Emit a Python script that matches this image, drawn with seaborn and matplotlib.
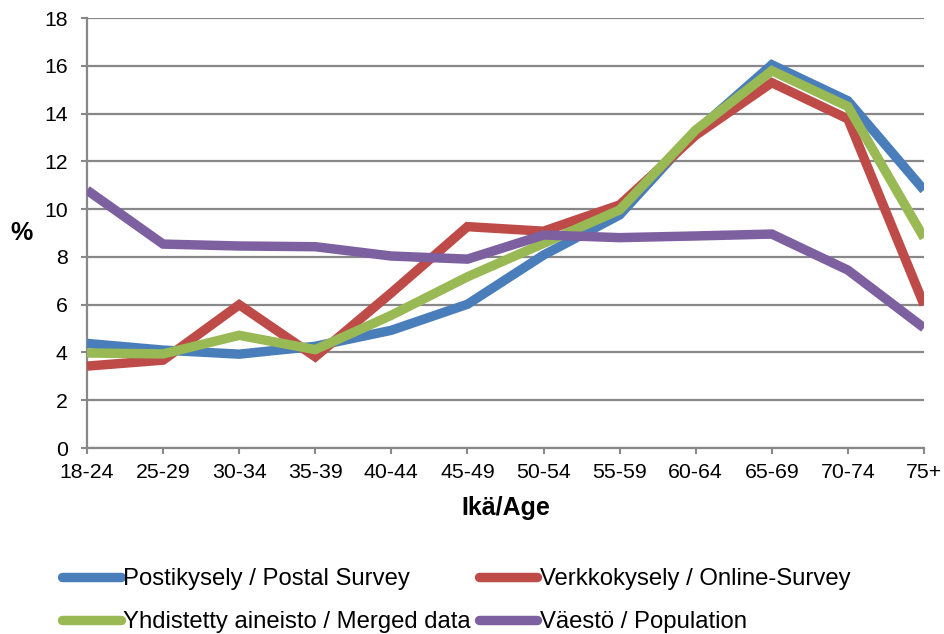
import matplotlib
matplotlib.use("Agg")
import matplotlib.pyplot as plt
import seaborn as sns
import pandas as pd
from matplotlib.lines import Line2D

categories = ["18-24", "25-29", "30-34", "35-39", "40-44", "45-49",
              "50-54", "55-59", "60-64", "65-69", "70-74", "75+"]
postal = [4.38, 4.1, 3.93, 4.26, 4.93, 6.02, 8.08, 9.76, 13.25, 16.05, 14.54, 10.8]
online = [3.43, 3.68, 6.0, 3.82, 6.5, 9.27, 9.08, 10.18, 13.1, 15.3, 13.78, 6.0]
merged = [3.98, 3.94, 4.72, 4.12, 5.56, 7.17, 8.57, 9.97, 13.32, 15.8, 14.3, 8.8]
population = [10.8, 8.54, 8.46, 8.43, 8.04, 7.91, 8.92, 8.81, 8.88, 8.96, 7.45, 5.03]

series_names = ["Postikysely / Postal Survey", "Verkkokysely / Online-Survey",
                "Yhdistetty aineisto / Merged data", "Väestö / Population"]
colors = ["#4A7EBB", "#BE4B48", "#98B954", "#7D60A0"]
yticks = [0, 2, 4, 6, 8, 10, 12, 14, 16, 18]

rows = []
for name, vals in zip(series_names, [postal, online, merged, population]):
    for c, v in zip(categories, vals):
        rows.append({"age": c, "value": v, "series": name})
df = pd.DataFrame(rows)

sns.set_theme(style="white")
plt.rcParams["font.family"] = ["Liberation Sans", "DejaVu Sans"]
plt.rcParams["text.color"] = "black"

fig = plt.figure(figsize=(9.44, 6.34), dpi=100)
ax = fig.add_axes([87 / 944, 1 - 448 / 634, (924 - 87) / 944, (448 - 18.2) / 634])

sns.lineplot(data=df, x="age", y="value", hue="series", hue_order=series_names,
             palette=colors, sort=False, linewidth=6.8, legend=False, ax=ax,
             estimator=None)
for i, ln in enumerate(ax.get_lines()):
    ln.set_solid_capstyle("butt")
    ln.set_solid_joinstyle("miter")
    ln.set_zorder(3 + i)

ax.set_xlim(0, len(categories) - 1)
ax.set_ylim(0, 18)
ax.set_yticks(yticks)
ax.set_yticklabels([str(t) for t in yticks])
ax.set_xticks(range(len(categories)))
ax.set_xticklabels(categories)

gridc = "#888888"
ax.grid(axis="y", color=gridc, linewidth=1.6, zorder=0)
ax.grid(axis="x", visible=False)
ax.set_axisbelow(True)
for s in ["top", "right"]:
    ax.spines[s].set_visible(False)
for s in ["left", "bottom"]:
    ax.spines[s].set_color(gridc)
    ax.spines[s].set_linewidth(1.6)
ax.tick_params(axis="both", direction="out", length=4, width=1.5, color=gridc,
               labelsize=15.3, labelcolor="black")
ax.tick_params(axis="y", pad=10)
ax.tick_params(axis="x", pad=7)
ax.yaxis.set_ticks_position("left")
ax.xaxis.set_ticks_position("bottom")

ax.set_xlabel("Ikä/Age", fontsize=18, fontweight="bold", labelpad=10, color="black")
ax.set_ylabel("")
fig.text(21.5 / 944, 1 - 233 / 634, "%", fontsize=18, fontweight="bold",
         ha="center", va="center", color="black")

handles = [Line2D([0], [0], color=c, linewidth=6.8, solid_capstyle="round")
           for c in colors]
# matplotlib fills legend columns first; reorder so rows read like the reference
order = [0, 2, 1, 3]
leg = fig.legend([handles[i] for i in order], [series_names[i] for i in order],
                 loc="upper left", bbox_to_anchor=(62 / 944, 1 - 568 / 634),
                 ncol=2, frameon=False, fontsize=17.2, handlelength=2.45,
                 handletextpad=0.1, columnspacing=0.35, labelspacing=0.88,
                 borderpad=0, borderaxespad=0)
for t in leg.get_texts():
    t.set_color("black")

fig.savefig("out.png", dpi=100)
